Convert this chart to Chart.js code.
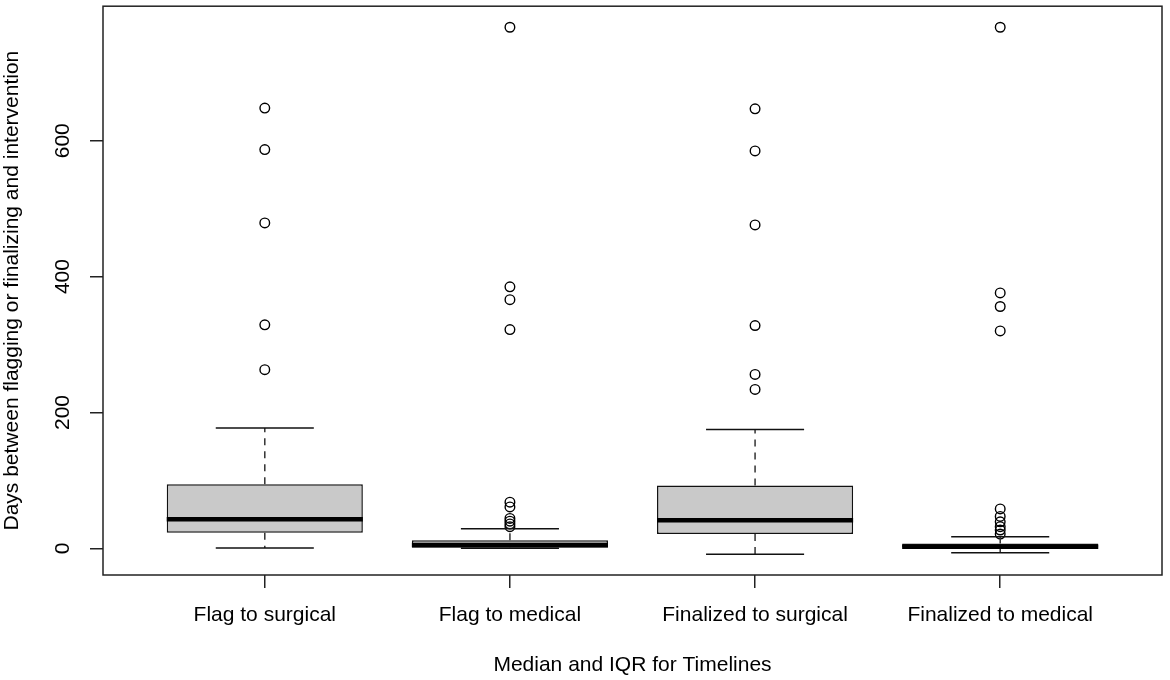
<!DOCTYPE html>
<html><head><meta charset="utf-8">
<script src="https://cdn.jsdelivr.net/npm/chart.js@4/dist/chart.umd.min.js"></script>
<style>html,body{margin:0;padding:0;background:#fff}</style>
</head><body>
<canvas id="c" width="1170" height="680"></canvas>
<script>
// ---- data (days) ----
const categories = ["Flag to surgical", "Flag to medical", "Finalized to surgical", "Finalized to medical"];
const whiskerLow  = [0.5, 0, -8.5, -6.5];
const q1          = [23, 1, 21, 0];
const median      = [43, 5, 41.5, 2.5];
const q3          = [94.5, 12, 92.5, 7];
const whiskerHigh = [177, 29, 175, 17];
const outliersFlagSurgical      = [648, 587, 479, 329, 263];
const outliersFlagMedical       = [767, 385, 366, 322, 68, 61, 44, 40, 36, 32];
const outliersFinalizedSurgical = [647, 585, 476, 328, 256, 234];
const outliersFinalizedMedical  = [767, 376, 356, 320, 58, 47, 39, 32, 27, 21];
const yTicks = [0, 200, 400, 600];
const yTitle = "Days between flagging or finalizing and intervention";
const xTitle = "Median and IQR for Timelines";

const outlierGroups = [outliersFlagSurgical, outliersFlagMedical, outliersFinalizedSurgical, outliersFinalizedMedical];
const boxWidth = 0.8;
const font = {family: "'Liberation Sans', Arial, sans-serif", size: 21};

const boxData = categories.map((c, i) => ({x: i + 1, y: [q1[i], q3[i]]}));
const outlierData = [];
outlierGroups.forEach((g, i) => g.forEach(v => outlierData.push({x: i + 1, y: v})));

function seg(ctx, x1, y1, x2, y2) { ctx.beginPath(); ctx.moveTo(x1, y1); ctx.lineTo(x2, y2); ctx.stroke(); }

const boxParts = {
  id: 'boxParts',
  afterDatasetsDraw(chart) {
    const {ctx, scales: {x, y}} = chart;
    ctx.save();
    ctx.lineCap = 'butt';
    categories.forEach((c, i) => {
      const xc = x.getPixelForValue(i + 1);
      const halfBox = x.getPixelForValue(i + 1 + boxWidth / 2) - xc;
      const halfCap = halfBox / 2;
      // dashed whisker stems
      ctx.strokeStyle = '#333'; ctx.lineWidth = 1.5; ctx.setLineDash([7, 6]);
      seg(ctx, xc, y.getPixelForValue(q3[i]), xc, y.getPixelForValue(whiskerHigh[i]));
      seg(ctx, xc, y.getPixelForValue(q1[i]), xc, y.getPixelForValue(whiskerLow[i]));
      ctx.setLineDash([]);
      // caps
      ctx.strokeStyle = '#111';
      seg(ctx, xc - halfCap, y.getPixelForValue(whiskerHigh[i]), xc + halfCap, y.getPixelForValue(whiskerHigh[i]));
      seg(ctx, xc - halfCap, y.getPixelForValue(whiskerLow[i]), xc + halfCap, y.getPixelForValue(whiskerLow[i]));
      // median
      ctx.strokeStyle = '#000'; ctx.lineWidth = 4.5;
      const ym = y.getPixelForValue(median[i]);
      seg(ctx, xc - halfBox, ym, xc + halfBox, ym);
    });
    ctx.restore();
  },
  afterDraw(chart) {
    const {ctx, chartArea: a} = chart;
    ctx.save();
    ctx.strokeStyle = '#222'; ctx.lineWidth = 1.5;
    ctx.strokeRect(a.left, a.top, a.right - a.left, a.bottom - a.top);
    ctx.restore();
  }
};

const gridOpts = {drawOnChartArea: false, drawTicks: true, tickLength: 13, color: '#222', lineWidth: 1.5, offset: false};

new Chart(document.getElementById('c'), {
  type: 'bar',
  data: {
    datasets: [
      {type: 'bar', data: boxData, backgroundColor: '#c9c9c9', borderColor: '#111', borderWidth: 1.5,
       borderSkipped: false, categoryPercentage: 1, barPercentage: boxWidth, grouped: false, order: 2},
      {type: 'scatter', data: outlierData, pointStyle: 'circle', pointRadius: 4.8, pointBorderWidth: 1.4,
       pointBorderColor: '#000', pointBackgroundColor: 'rgba(0,0,0,0)', order: 1}
    ]
  },
  options: {
    responsive: false,
    animation: false,
    events: [],
    layout: {padding: {top: 5, right: 8, left: 0, bottom: 0}},
    plugins: {legend: {display: false}, tooltip: {enabled: false}},
    scales: {
      x: {
        type: 'linear', min: 0.34, max: 4.66, offset: false,
        afterBuildTicks: s => { s.ticks = categories.map((c, i) => ({value: i + 1})); },
        afterFit: s => { s.height = 105; s.paddingLeft = 0; s.paddingRight = 0; },
        ticks: {callback: v => categories[Math.round(v) - 1], padding: 15, minRotation: 0, maxRotation: 0,
                autoSkip: false, color: '#000', font},
        grid: gridOpts,
        border: {display: false},
        title: {display: true, text: xTitle, color: '#000', font, padding: {top: 0, bottom: 2}}
      },
      y: {
        type: 'linear', min: -39.2, max: 798,
        afterBuildTicks: s => { s.ticks = yTicks.map(v => ({value: v})); },
        afterFit: s => { s.width = 103; s.paddingTop = 0; s.paddingBottom = 0; },
        ticks: {minRotation: 90, maxRotation: 90, crossAlign: 'center', padding: 9, color: '#000', font},
        grid: gridOpts,
        border: {display: false},
        title: {display: true, text: yTitle, color: '#000', font, padding: {top: 0, bottom: 0}}
      }
    }
  },
  plugins: [boxParts]
});
</script>
</body></html>
